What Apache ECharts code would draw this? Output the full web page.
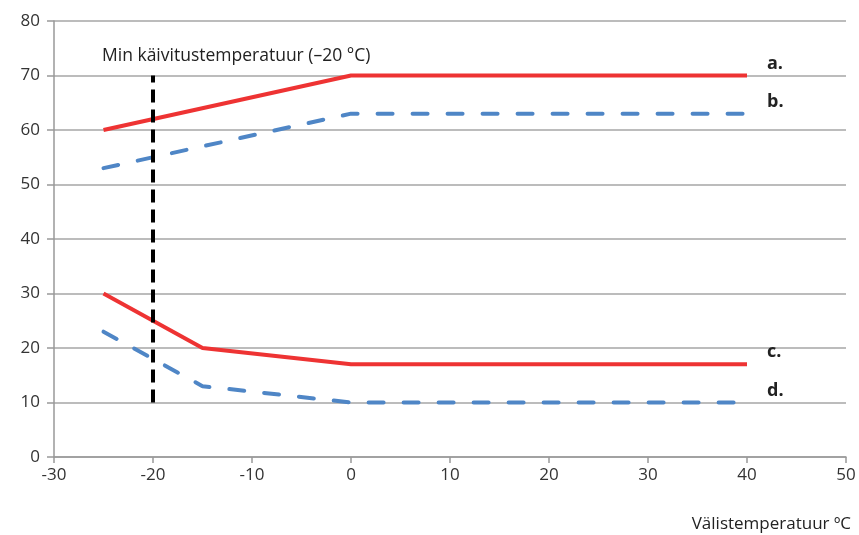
<!DOCTYPE html>
<html><head><meta charset="utf-8">
<script src="https://cdn.jsdelivr.net/npm/echarts@6/dist/echarts.min.js"></script>
<style>html,body{margin:0;padding:0;background:#fff}#c{width:859px;height:535px}</style>
</head><body><div id="c"></div>
<script>
const xTicks = [-30,-20,-10,0,10,20,30,40,50];
const yTicks = [0,10,20,30,40,50,60,70,80];
const seriesA = [[-25,60],[0,70],[40,70]];
const seriesB = [[-25,53],[0,63],[40,63]];
const seriesC = [[-25,30],[-15,20],[0,17],[40,17]];
const seriesD = [[-25,23],[-15,13],[0,10],[40,10]];
const minStart = [[-20,10],[-20,70]];
const labels = ['a.','b.','c.','d.'];
const annot = 'Min käivitustemperatuur (–20 °C)';
const xName = 'Välistemperatuur ºC';

const chart = echarts.init(document.getElementById('c'));
const FONT = '"Open Sans", "Noto Sans", sans-serif';
function lineSeries(data, color, dashed, label){
  return {
    type:'line', data, symbol:'none', silent:true,
    lineStyle:{color, width:4, type: dashed?[15,20]:'solid', cap: dashed?'round':'butt'},
    endLabel:{show:true, formatter:label, fontFamily:FONT, fontWeight:'bold', fontSize:18, color:'#222', offset:[12,-12]},
    z:3
  };
}
chart.setOption({
  animation:false,
  title:[
    {text:annot, left:97, top:42, textStyle:{fontFamily:FONT, fontWeight:'normal', fontSize:17.5, color:'#222'}},
    {text:xName, right:3, top:511, textStyle:{fontFamily:FONT, fontWeight:'normal', fontSize:17, color:'#222'}}
  ],
  grid:{left:54, right:13, top:21, bottom:78},
  xAxis:{type:'value', min:xTicks[0], max:xTicks[xTicks.length-1], interval:10,
    axisLine:{onZero:false, lineStyle:{color:'#999', width:1.5}},
    axisTick:{show:true, length:6, lineStyle:{color:'#999', width:1.5}},
    axisLabel:{fontFamily:FONT, fontSize:17, color:'#333', margin:10},
    splitLine:{show:false}},
  yAxis:{type:'value', min:yTicks[0], max:yTicks[yTicks.length-1], interval:10,
    axisLine:{show:true, onZero:false, lineStyle:{color:'#999', width:1.5}},
    axisTick:{show:true, length:7, lineStyle:{color:'#999', width:1.5}},
    axisLabel:{fontFamily:FONT, fontSize:17, color:'#333', margin:14},
    splitLine:{show:true, lineStyle:{color:'#a6a6a6', width:1.5}}},
  series:[
    lineSeries(seriesA, '#EE3333', false, labels[0]),
    lineSeries(seriesB, '#4F86C6', true, labels[1]),
    lineSeries(seriesC, '#EE3333', false, labels[2]),
    lineSeries(seriesD, '#4F86C6', true, labels[3]),
    {type:'line', data:minStart, symbol:'none', silent:true,
     lineStyle:{color:'#000', width:4, type:[13,7]}, z:4}
  ]
});
</script></body></html>
